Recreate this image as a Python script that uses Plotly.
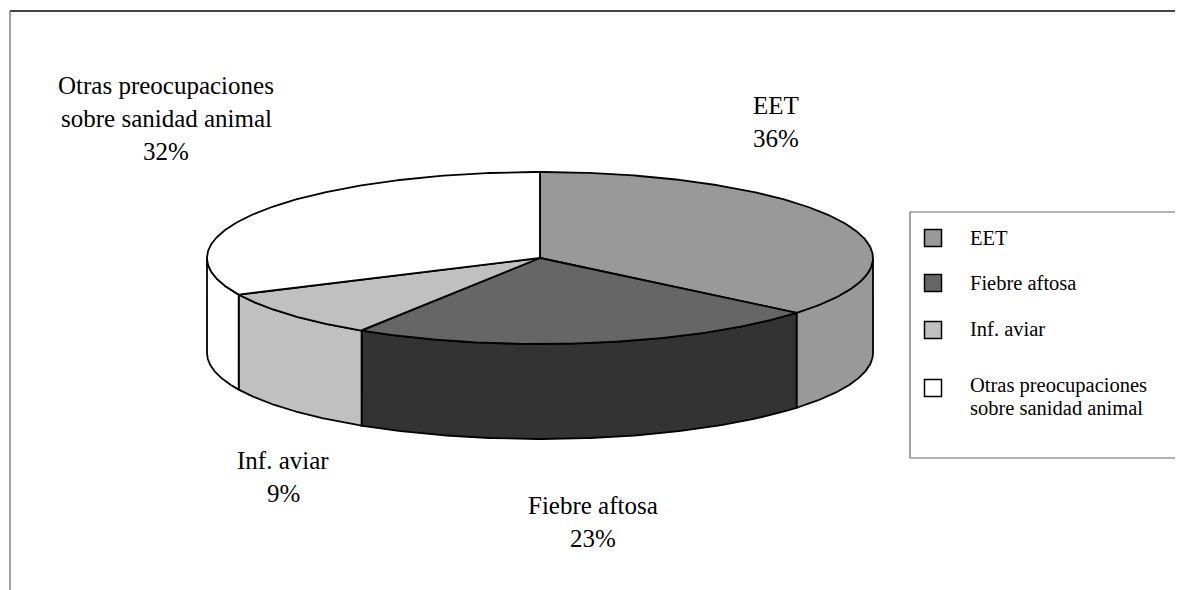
import numpy as np
import plotly.graph_objects as go

# ---- data ----
categories = ["EET", "Fiebre aftosa", "Inf. aviar", "Otras preocupaciones sobre sanidad animal"]
values = [36, 23, 9, 32]
top_colors = ["#999999", "#666666", "#c0c0c0", "#ffffff"]
side_colors = ["#999999", "#333333", "#c0c0c0", "#ffffff"]

# ---- geometry (page-pixel space; page body has an 8px margin) ----
W, H, OFF = 1183, 590, 8
cx, cy, rx, ry, depth = 540, 258, 333, 86, 95
FONT = "Liberation Serif, Times New Roman, serif"

def pt(theta_deg, dy=0.0):
    t = np.radians(theta_deg)
    return cx + rx * np.sin(t), cy - ry * np.cos(t) + dy

def split_name(name):
    return name.replace(" sobre", "\nsobre").split("\n")

total = sum(values)
bounds = np.concatenate([[0], np.cumsum(values) / total * 360.0])

fig = go.Figure()

# side walls (front half only: 90..270 deg)
for i in range(len(values)):
    a0, a1 = max(bounds[i], 90), min(bounds[i + 1], 270)
    if a1 <= a0:
        continue
    th = np.linspace(a0, a1, 120)
    xt, yt = pt(th)
    xb, yb = pt(th[::-1], depth)
    xs = np.concatenate([xt, xb, xt[:1]])
    ys = np.concatenate([yt, yb, yt[:1]])
    fig.add_trace(go.Scatter(x=xs, y=ys, mode="lines", fill="toself",
                             fillcolor=side_colors[i], line=dict(color="black", width=1.8),
                             hoverinfo="skip", showlegend=False))

# top faces
for i in range(len(values)):
    th = np.linspace(bounds[i], bounds[i + 1], 200)
    xa, ya = pt(th)
    xs = np.concatenate([[cx], xa, [cx]])
    ys = np.concatenate([[cy], ya, [cy]])
    fig.add_trace(go.Scatter(x=xs, y=ys, mode="lines", fill="toself",
                             fillcolor=top_colors[i], line=dict(color="black", width=1.8),
                             hoverinfo="text", text=f"{categories[i]}: {values[i]}%",
                             showlegend=False))

# data labels (one annotation per line)
label_x = [776, 593, 283, 166]
label_top = [105, 505, 460, 85]
LBL_STEP = 33
for i in range(len(values)):
    lines = split_name(categories[i]) + [f"{values[i]}%"]
    for k, ln in enumerate(lines):
        fig.add_annotation(x=label_x[i], y=label_top[i] + k * LBL_STEP, text=ln,
                           showarrow=False, xanchor="center", yanchor="middle",
                           font=dict(family=FONT, size=25, color="black"))

# legend (manual)
leg_y = [238, 283, 329, 385]
LEG_STEP = 23
fig.add_trace(go.Scatter(x=[933] * 4, y=[238, 283, 330, 388], mode="markers",
                         marker=dict(symbol="square", size=17, color=top_colors,
                                     line=dict(color="black", width=1.5)),
                         hoverinfo="skip", showlegend=False))
for i, yy in enumerate(leg_y):
    for k, ln in enumerate(split_name(categories[i])):
        fig.add_annotation(x=968, y=yy + k * LEG_STEP, text=ln, showarrow=False,
                           xanchor="left", yanchor="middle",
                           font=dict(family=FONT, size=20.5, color="black"))

fig.update_layout(
    width=W - OFF, height=H - OFF, margin=dict(l=0, r=0, t=0, b=0),
    paper_bgcolor="white", plot_bgcolor="white",
    xaxis=dict(range=[OFF, W], visible=False, fixedrange=True),
    yaxis=dict(range=[H, OFF], visible=False, fixedrange=True),
    shapes=[
        dict(type="line", xref="x", yref="y", x0=10, y0=11, x1=W + 5, y1=11,
             line=dict(color="#444444", width=2)),
        dict(type="line", xref="x", yref="y", x0=10, y0=11, x1=10, y1=H + 5,
             line=dict(color="#808080", width=1.5)),
        dict(type="rect", xref="x", yref="y", x0=910, y0=212, x1=W + 20, y1=458,
             line=dict(color="#666666", width=1.2), fillcolor="rgba(0,0,0,0)"),
    ],
    showlegend=False,
)

fig.write_html("out.html")
